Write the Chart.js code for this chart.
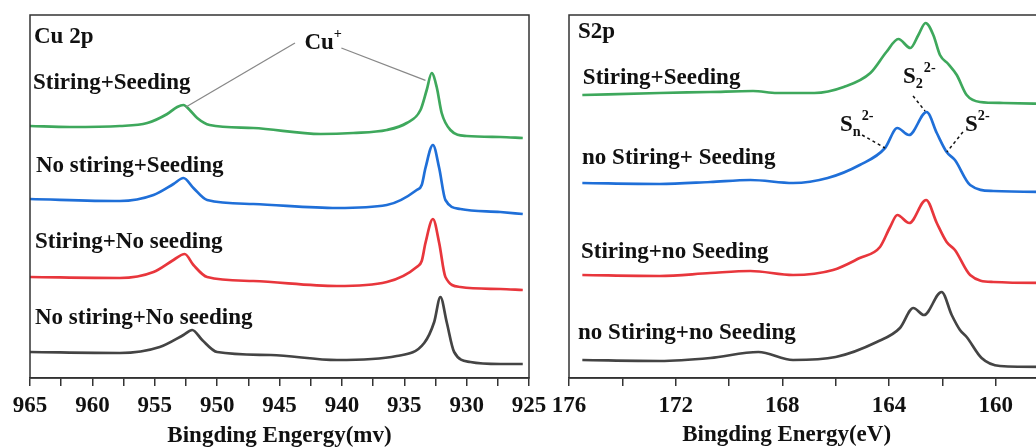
<!DOCTYPE html>
<html>
<head>
<meta charset="utf-8">
<script src="https://cdn.jsdelivr.net/npm/chart.js@4.4.0/dist/chart.umd.min.js"></script>
<style>
  html, body { margin: 0; padding: 0; background: #fff; overflow: hidden; width: 1036px; height: 447px; }
  #cu { position: absolute; left: 0; top: 0; }
  #s2p { position: absolute; left: 540px; top: 0; }
</style>
</head>
<body>
<canvas id="cu" width="560" height="447"></canvas>
<canvas id="s2p" width="600" height="447"></canvas>
<script>
// Cu 2p panel (binding energy, intensity offset per curve)
var cuE1 = [965, 961.8, 957.8, 955.6, 954.0, 953.2, 952.7, 952.2, 951.6, 950.6, 947.1, 941.7, 939.1, 936.4, 934.8, 933.7, 933.2, 932.8, 932.4, 932.0, 931.3, 930.0, 927.3, 925.5];
var cuStirSeed = [252, 251, 252, 255, 264, 271, 273, 268, 260, 253, 250, 244, 245, 248, 255, 268, 288, 305, 291, 265, 248, 242, 241, 240];

var cuE2 = [965, 957.8, 955.1, 953.5, 952.7, 951.9, 950.8, 947.1, 940.4, 936.4, 934.0, 933.6, 933.3, 932.7, 932.2, 931.7, 930.5, 927.3, 925.5];
var cuNoStirSeed = [179, 177, 183, 194, 200, 190, 178, 174, 170, 173, 188, 193, 210, 233, 210, 178, 169, 166, 164];

var cuE3 = [965, 957.8, 955.1, 953.5, 952.6, 951.9, 950.8, 947.1, 940.4, 936.4, 934.0, 933.6, 933.3, 932.7, 932.2, 931.7, 930.5, 927.3, 925.5];
var cuStirNoSeed = [101, 100, 106, 118, 124, 113, 101, 97, 92, 96, 111, 117, 135, 159, 135, 101, 91, 89, 88];

var cuE4 = [965, 957.8, 954.6, 952.7, 952.0, 951.2, 950.0, 945.7, 940.4, 935.6, 933.4, 932.6, 932.1, 931.6, 931.0, 929.7, 927.3, 925.5];
var cuNoStirNoSeed = [26, 25, 31, 43, 48, 38, 26, 23, 18, 22, 35, 56, 81, 56, 26, 16, 14, 14];

// S 2p panel
var sE1 = [175.5, 172.6, 170.7, 169.1, 168.2, 166.8, 165.7, 164.7, 164.1, 163.65, 163.2, 162.9, 162.63, 162.34, 162.09, 161.78, 161.46, 161.09, 160.59, 159.71, 158.0];
var sStirSeed = [283, 285, 286, 287, 285, 285, 291, 305, 326, 339, 330, 343, 355, 343, 323, 314, 303, 283, 276, 275, 274];

var sE2 = [175.5, 172.6, 170.7, 169.2, 167.6, 166.3, 165.1, 164.15, 163.69, 163.25, 162.59, 162.21, 161.84, 161.53, 160.96, 160.09, 158.0];
var sNoStirSeed = [195, 194, 196, 198, 195, 200, 213, 230, 250, 243, 266, 245, 226, 218, 193, 187, 186];

var sE3 = [175.5, 172.6, 170.7, 169.2, 167.6, 166.1, 165.1, 164.34, 163.96, 163.69, 163.24, 162.61, 162.21, 161.84, 161.53, 160.96, 160.09, 158.0];
var sStirNoSeed = [103, 102, 105, 107, 103, 108, 120, 131, 151, 163, 155, 178, 155, 136, 128, 103, 96, 95];

var sE4 = [175.5, 172.6, 170.7, 168.9, 167.6, 166.0, 164.46, 163.59, 163.09, 162.69, 162.03, 161.65, 161.34, 161.09, 160.53, 159.84, 158.0];
var sNoStirNoSeed = [18, 17, 20, 26, 18, 21, 36, 50, 70, 63, 86, 63, 48, 41, 20, 12, 11];

var green = '#3ea85c', blue = '#1f6fd8', red = '#e8363c', black = '#444444';
var serif = "'Liberation Serif', 'Times New Roman', serif";

function pts(xs, ys) {
    return xs.map(function (v, i) { return { x: v, y: ys[i] }; });
}

function line(xs, ys, color) {
    return {
        data: pts(xs, ys),
        borderColor: color,
        borderWidth: 2.7,
        pointRadius: 0,
        cubicInterpolationMode: 'monotone',
        fill: false
    };
}

// box around the plot area
var framePlugin = {
    id: 'frame',
    afterDraw: function (chart) {
        var a = chart.chartArea, ctx = chart.ctx;
        ctx.save();
        ctx.strokeStyle = '#333';
        ctx.lineWidth = 1.5;
        ctx.strokeRect(a.left, a.top, a.right - a.left, a.bottom - a.top);
        ctx.restore();
    }
};

// labels, leader lines and sub/superscripts
var notesPlugin = {
    id: 'notes',
    afterDraw: function (chart, args, opts) {
        var ctx = chart.ctx, xs = chart.scales.x, ys = chart.scales.y;
        ctx.save();
        (opts.lines || []).forEach(function (l) {
            ctx.beginPath();
            ctx.strokeStyle = l.color;
            ctx.lineWidth = l.width;
            ctx.setLineDash(l.dash || []);
            ctx.moveTo(xs.getPixelForValue(l.from[0]), ys.getPixelForValue(l.from[1]));
            ctx.lineTo(xs.getPixelForValue(l.to[0]), ys.getPixelForValue(l.to[1]));
            ctx.stroke();
        });
        ctx.setLineDash([]);
        ctx.fillStyle = '#111';
        ctx.textBaseline = 'middle';
        ctx.textAlign = 'left';
        (opts.texts || []).forEach(function (t) {
            var size = t.size || 23;
            var px = xs.getPixelForValue(t.at[0]);
            var py = ys.getPixelForValue(t.at[1]);
            var parts = t.parts.map(function (p) {
                var s = p[1] ? size * 0.62 : size;
                ctx.font = 'bold ' + s + 'px ' + serif;
                return { text: p[0], kind: p[1], font: ctx.font, w: ctx.measureText(p[0]).width };
            });
            if (t.center) {
                var total = parts.reduce(function (a, p) { return a + p.w; }, 0);
                px -= total / 2;
            }
            parts.forEach(function (p) {
                ctx.font = p.font;
                var dy = p.kind === 'sub' ? size * 0.32 : (p.kind === 'sup' ? -size * 0.38 : 0);
                ctx.fillText(p.text, px, py + dy);
                px += p.w + (p.kind ? 1 : 0);
            });
        });
        ctx.restore();
    }
};

function xScale(min, max, step, labelEvery, origin, title) {
    return {
        type: 'linear',
        reverse: true,
        min: min,
        max: max,
        afterFit: function (s) { s.height = 69; },
        border: { display: true, color: '#333', width: 1.5 },
        grid: { drawOnChartArea: false, drawTicks: true, tickLength: 8, color: '#333', lineWidth: 1.5 },
        ticks: {
            stepSize: step,
            autoSkip: false,
            maxRotation: 0,
            padding: 6,
            color: '#111',
            font: { family: serif, size: 23, weight: 'bold' },
            callback: function (v) {
                var d = Math.abs(origin - v) / labelEvery;
                return Math.abs(d - Math.round(d)) < 1e-6 ? String(v) : '';
            }
        },
        title: {
            display: !!title,
            text: title || '',
            color: '#111',
            padding: { top: 0, bottom: -3 },
            font: { family: serif, size: 23, weight: 'bold' }
        }
    };
}

var yScale = { type: 'linear', display: false, min: 0, max: 363 };

new Chart(document.getElementById('cu'), {
    type: 'line',
    data: {
        datasets: [
            line(cuE1, cuStirSeed, green),
            line(cuE2, cuNoStirSeed, blue),
            line(cuE3, cuStirNoSeed, red),
            line(cuE4, cuNoStirNoSeed, black)
        ]
    },
    options: {
        responsive: false,
        animation: false,
        layout: { padding: { left: 30, right: 31, top: 15, bottom: 0 } },
        plugins: {
            legend: { display: false },
            tooltip: { enabled: false },
            notes: {
                lines: [
                    { from: [943.76, 335], to: [952.5, 271], color: '#888', width: 1.3 },
                    { from: [940.04, 330], to: [933.3, 297.6], color: '#888', width: 1.3 }
                ],
                texts: [
                    { at: [964.68, 341], parts: [['Cu 2p']] },
                    { at: [964.76, 295], parts: [['Stiring+Seeding']] },
                    { at: [964.52, 212], parts: [['No stiring+Seeding']] },
                    { at: [964.6, 136], parts: [['Stiring+No seeding']] },
                    { at: [964.6, 60], parts: [['No stiring+No seeding']] },
                    { at: [943.0, 335], parts: [['Cu'], ['+', 'sup']] }
                ]
            }
        },
        scales: {
            x: xScale(925, 965, 2.5, 5, 965, 'Bingding Engergy(mv)'),
            y: yScale
        }
    },
    plugins: [framePlugin, notesPlugin]
});

new Chart(document.getElementById('s2p'), {
    type: 'line',
    data: {
        datasets: [
            line(sE1, sStirSeed, green),
            line(sE2, sNoStirSeed, blue),
            line(sE3, sStirNoSeed, red),
            line(sE4, sNoStirNoSeed, black)
        ]
    },
    options: {
        responsive: false,
        animation: false,
        layout: { padding: { left: 29, right: 37.6, top: 15, bottom: 0 } },
        plugins: {
            legend: { display: false },
            tooltip: { enabled: false },
            notes: {
                lines: [
                    { from: [163.10, 282], to: [162.65, 267], color: '#111', width: 1.5, dash: [3, 3] },
                    { from: [165.01, 243], to: [164.15, 230], color: '#111', width: 1.5, dash: [3, 3] },
                    { from: [161.23, 246], to: [161.83, 226], color: '#111', width: 1.5, dash: [3, 3] }
                ],
                texts: [
                    { at: [175.66, 346], parts: [['S2p']] },
                    { at: [175.48, 300], parts: [['Stiring+Seeding']] },
                    { at: [175.51, 220], parts: [['no Stiring+ Seeding']] },
                    { at: [175.55, 126], parts: [['Stiring+no Seeding']] },
                    { at: [175.66, 45], parts: [['no Stiring+no Seeding']] },
                    { at: [163.48, 301], parts: [['S'], ['2', 'sub'], ['2-', 'sup']] },
                    { at: [165.84, 253], parts: [['S'], ['n', 'sub'], ['2-', 'sup']] },
                    { at: [161.15, 253], parts: [['S'], ['2-', 'sup']] },
                    { at: [167.84, -57], center: true, parts: [['Bingding Energy(eV)']] }
                ]
            }
        },
        scales: {
            x: xScale(156, 176, 2, 4, 176, ''),
            y: yScale
        }
    },
    plugins: [framePlugin, notesPlugin]
});
</script>
</body>
</html>
